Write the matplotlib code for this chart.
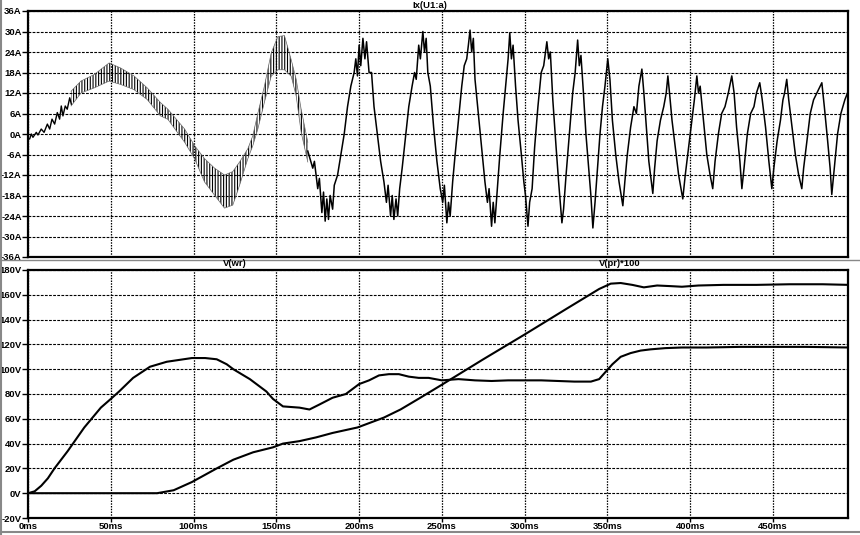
import matplotlib
matplotlib.use("Agg")
import matplotlib.pyplot as plt
from matplotlib.lines import Line2D

plt.rcParams['font.family'] = ['Liberation Sans', 'DejaVu Sans']
plt.rcParams['hatch.linewidth'] = 0.8

# top panel: Ix(U1:a), start of the trace
start_t = [0, 1.0, 2.0, 3.0, 5.0, 6.0, 8.0, 9.7, 11.7, 13.1, 14.5, 16.1, 17.7, 19.1,
           20.1, 21.1, 22.5, 23.7, 25.2, 26.2]
start_i = [-1.5, -1.45, 0, -0.97, 0.48, -0.29, 1.45, 0.48, 2.9, 1.45, 4.35, 2.9, 6.28, 4.35,
           8.2, 5.3, 8.2, 7.25, 10.6, 8.7]

# dense ripple band (envelope of the switching ripple)
band_t = [26, 32, 40, 49, 56, 64, 72, 80, 84.5, 94.6, 100.6, 106.6, 112.7, 118.7, 123.7,
          127.8, 132.8, 135.8, 138.8, 142.8, 146.9, 150.9, 154.9, 159, 162, 165, 169]
band_lo = [8.2, 12, 13.5, 15.5, 14.5, 13, 10.1, 5.3, 4.3, -2.4, -7.2, -14, -17.9, -21.7, -20.8,
           -15, -7.2, -3.4, 1.4, 9.3, 16.9, 18.8, 18.8, 16.9, 11.1, 0.5, -8.2]
band_hi = [12.5, 15.5, 17.4, 20.8, 19.3, 17, 13.5, 9.2, 7.25, 1.45, -3.4, -7.2, -10, -12, -11,
           -8.2, -4.3, -0.5, 6, 14, 23.7, 28.5, 28.8, 21.7, 16, 7.2, -2.4]

# rest of the trace
rest_t = [169, 172, 173, 175, 176, 177.5, 178.5, 179.5, 180.5, 181.5, 182.5, 184, 185, 187, 189,
          191, 193, 195, 197, 198, 199, 200, 201, 202.3, 203.5, 204.5, 206, 207.5, 209, 211,
          213, 215, 216.5, 217.5, 219, 220, 221, 222.3, 223.3, 224.5, 226, 228, 230, 232,
          233.5, 234.5, 236, 237, 238.5, 239.5, 240.5, 241.5, 243, 245, 247, 249, 250.5,
          251.5, 253, 254, 255, 256.5, 258, 260, 262, 263.5, 265, 266, 267, 268, 269, 270,
          272, 274, 276, 277.5, 278.5, 280, 281, 282, 283.5, 285, 287, 288.5, 290, 291, 292,
          293, 294.5, 296, 298, 299.5, 300.5, 302, 303, 304.5, 306, 308, 310, 311.5, 313.4,
          314.5, 315.5, 317, 319, 320.5, 321.5, 322.5, 323.5, 325, 327, 329, 330.5, 332, 333,
          334, 335.5, 337, 339, 340, 341.2, 342.5, 344, 345.5, 347, 348.5, 350.2, 351.5, 353,
          355, 357, 359.3, 360.5, 362, 364, 366, 367.5, 369, 370.8, 372, 373.5, 375, 377.4,
          378.5, 380, 382, 384, 385.5, 386.5, 387.5, 389, 391, 393, 395.5, 397, 399, 401,
          402.5, 404, 405, 406, 408, 410, 412, 413.6, 415, 417, 419, 421, 423, 425.1, 426.5,
          428, 430, 431.2, 432.5, 434.5, 436.5, 438.5, 440, 442, 443.5, 445.5, 447.5, 449.3,
          450.5, 452.5, 454.5, 456, 457, 458.3, 459.5, 461.5, 463.5, 465.5, 467.4, 468.5,
          470.5, 472.5, 474.5, 476.5, 479.5, 481, 483, 484.5, 485.5, 487, 489, 491, 493.4, 495]
rest_i = [-5, -10, -8, -16, -13, -23, -17, -25.5, -19, -25, -18, -22, -15, -12, -6,
          0, 8, 14, 18, 22, 17, 26, 20, 28, 22, 27, 18, 18, 8, 0,
          -8, -14, -20, -15, -24, -18, -25, -19, -24, -16, -10, -1, 8, 14,
          18, 16, 26, 22, 30, 24, 28, 18, 14, 2, -8, -16, -20,
          -15, -26, -20, -24, -14, -6, 4, 14, 20, 22, 26, 30.4, 24, 28, 16,
          6, -4, -14, -20, -16, -27, -20, -26, -16, -6, 6, 14, 22, 29.6, 22,
          26, 14, 4, -6, -14, -18, -27, -20, -16, -4, 8, 18, 20, 27,
          22, 24, 10, -4, -14, -20, -26, -22, -12, 0, 12, 18, 27.5, 20,
          23, 12, 0, -12, -18, -27.5, -20, -10, 0, 8, 14, 22, 16, 4,
          -6, -14, -21, -14, -6, 2, 8, 6, 14, 19, 12, 2, -8, -17.4,
          -10, -2, 4, 8, 12, 17, 12, 4, -4, -12, -19, -12, -4, 4,
          10, 17, 12, 14, 4, -6, -12, -16, -8, 0, 6, 8, 12, 17, 12,
          2, -8, -16, -10, 0, 6, 8, 12, 15, 10, 2, -8, -16,
          -10, -2, 4, 10, 12, 16, 10, 2, -6, -12, -16, -10,
          -2, 6, 10, 12, 15, 8, -2, -10, -17.7, -10, 0, 6, 10, 12]

# bottom panel: V(wr)
wr_t = [0, 4, 8, 12, 16, 24, 34, 44, 50, 55, 63.5, 73.7, 83.8, 99, 107, 114, 120, 124, 134,
        144, 148, 154, 164, 170, 176, 184, 192, 200, 206, 212, 218, 224, 230, 236, 242, 250,
        260, 270, 280, 290, 300, 310, 320, 330, 340, 345, 349, 353, 358, 364, 370, 376, 385,
        395, 410, 430, 450, 470, 496]
wr_v = [0, 1.5, 6, 12, 20, 34, 53, 69, 76, 82, 93, 102, 106, 109, 109, 108, 104, 100, 92,
        82, 76, 70, 69, 67.5, 71.5, 77, 80, 88, 91, 95, 96, 96, 94, 93, 93, 91,
        92, 91, 90.5, 91, 91, 91, 90.5, 90, 90, 92, 98, 104, 110, 113, 115, 116, 117,
        117.5, 117.5, 118, 118, 118, 117.5]

# bottom panel: V(pr)*100
pr_t = [0, 78, 88, 99, 114, 124, 136, 148, 154, 164, 174, 184, 199, 215, 225, 237, 250, 275,
        300, 325, 345, 352, 358, 365, 372, 380, 388, 395, 405, 420, 440, 460, 480, 496]
pr_v = [0, 0, 2.4, 9, 20, 27, 33, 37, 40, 42, 45, 48.6, 53, 61, 67.5, 77, 87.5, 108,
        128, 148.5, 164.7, 169, 169.5, 168, 166, 167.5, 167, 166.5, 167.5, 168, 168, 168.5,
        168.5, 168]

x_ticks = [0, 50, 100, 150, 200, 250, 300, 350, 400, 450]
top_ticks = [36, 30, 24, 18, 12, 6, 0, -6, -12, -18, -24, -30, -36]
bot_ticks = [180, 160, 140, 120, 100, 80, 60, 40, 20, 0, -20]

W, H = 860, 535
fig = plt.figure(figsize=(8.6, 5.35), dpi=100)
ax1 = fig.add_axes([28 / W, 1 - 257 / H, 820 / W, 246 / H])
ax2 = fig.add_axes([28 / W, 1 - 518 / H, 820 / W, 248 / H])

fs = 6.8
for ax in (ax1, ax2):
    ax.set_xlim(0, 495.3)
    ax.set_xticks(x_ticks)
    for s in ax.spines.values():
        s.set_linewidth(1.6)
    ax.xaxis.grid(True, color='black', linestyle=(0, (1.2, 1.0)), linewidth=0.9)
    ax.yaxis.grid(True, color='black', linestyle=(0, (2.5, 1.2)), linewidth=0.8)
    ax.set_axisbelow(True)
    ax.tick_params(axis='y', length=4, width=1, pad=0.5, labelsize=fs)

ax1.set_ylim(-36, 36)
ax1.set_yticks(top_ticks)
ax1.set_yticklabels([f"{v}A" for v in top_ticks], fontweight='bold')
ax1.tick_params(axis='x', length=0, labelbottom=False)

ax2.set_ylim(-20, 180)
ax2.set_yticks(bot_ticks)
ax2.set_yticklabels([f"{v}V" for v in bot_ticks], fontweight='bold')
ax2.set_xticklabels([f"{v}ms" for v in x_ticks], fontweight='bold')
ax2.tick_params(axis='x', length=3, width=1, pad=0, labelsize=fs)

# current trace
ax1.plot(start_t, start_i, color='black', lw=1.0)
ax1.fill_between(band_t, band_lo, band_hi, facecolor='none', edgecolor='black',
                 hatch='||||||', linewidth=0)
ax1.plot(band_t, band_lo, color='#666666', lw=0.5)
ax1.plot(band_t, band_hi, color='#666666', lw=0.5)
ax1.plot(rest_t, rest_i, color='black', lw=1.1)

# voltages
ax2.plot(wr_t, wr_v, color='black', lw=1.5)
ax2.plot(pr_t, pr_v, color='black', lw=1.5)

fig.text(430 / W, 1 - 5 / H, "Ix(U1:a)", ha='center', va='center', fontsize=fs, fontweight='bold')
fig.text(235 / W, 1 - 264 / H, "V(wr)", ha='center', va='center', fontsize=fs, fontweight='bold')
fig.text(620 / W, 1 - 264 / H, "V(pr)*100", ha='center', va='center', fontsize=fs, fontweight='bold')

# pane separators
fig.add_artist(Line2D([0, 1], [1 - 260 / H, 1 - 260 / H], color='#888888', lw=1))
fig.add_artist(Line2D([0, 1], [1 - 532 / H, 1 - 532 / H], color='#888888', lw=1.5))
fig.add_artist(Line2D([1 / W, 1 / W], [0, 1], color='#888888', lw=1.5))

fig.savefig("out.png", dpi=100)
